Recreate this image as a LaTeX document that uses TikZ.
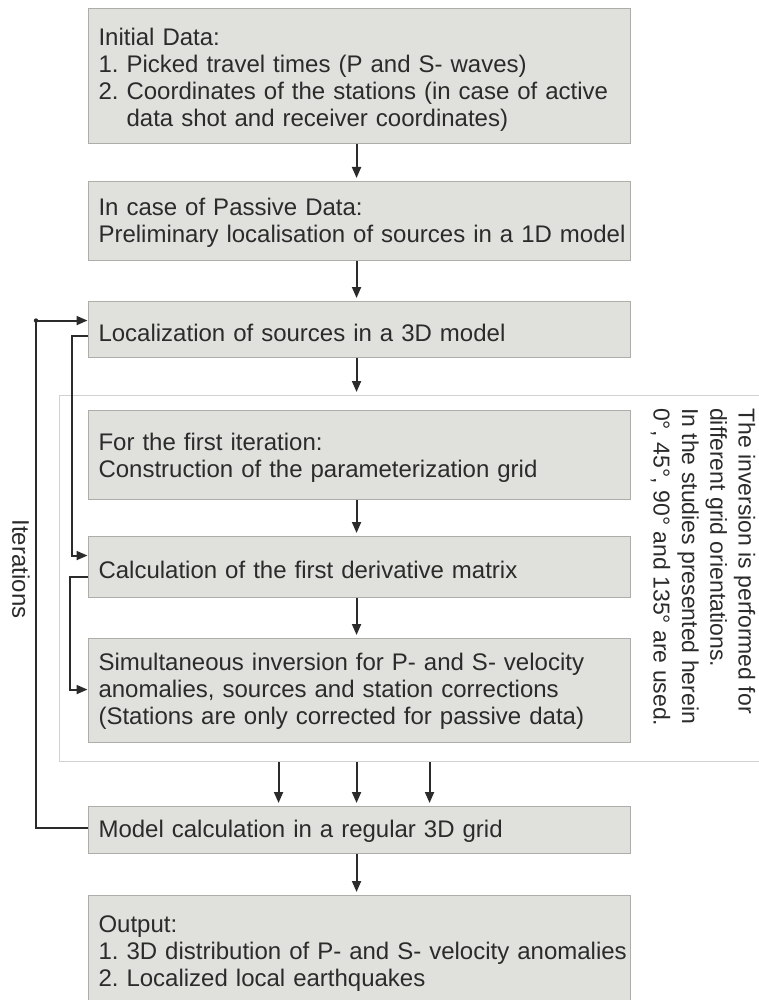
\documentclass[tikz,border=0pt]{standalone}
\usepackage{fontspec}
\setmainfont{Liberation Sans}
\usetikzlibrary{arrows.meta}
\definecolor{boxfill}{HTML}{E0E0DD}
\definecolor{boxline}{HTML}{ADADAA}
\definecolor{frameline}{HTML}{D2D2D2}
\definecolor{ink}{HTML}{2B2B2B}
\newcommand\firstln[2]{\mbox{\rule{0pt}{#1pt}#2}}
\newcommand\lastln[2]{\mbox{#2\rule[-#1pt]{0pt}{#1pt}}}
\frenchspacing
\begin{document}
\begin{tikzpicture}[x=1pt,y=-1pt,
  every node/.style={font=\fontsize{24}{27}\selectfont\frenchspacing, text=ink},
  box/.style={draw=boxline, line width=1.1pt, fill=boxfill, anchor=north west,
    text width=521.5pt, inner xsep=10.5pt, inner ysep=0pt, align=left},
  conn/.style={draw=ink, line width=1.9pt, -{Triangle[length=11pt,width=9pt]}},
  down/.style={conn, shorten >=3pt}]
\useasboundingbox (0,0) rectangle (759,1000);
\clip (0,0) rectangle (759,1000);
\fill[white] (0,0) rectangle (759,1000);

% frame round the inversion steps
\node[draw=frameline, line width=1.3pt, anchor=north west, minimum width=720pt,
  minimum height=366pt, inner sep=0pt] (frame) at (59,395) {};

\node[box] (b1) at (87.5,8) {\firstln{37}{Initial Data:}\\
  \mbox{1. Picked travel times (P and S- waves)}\\
  \mbox{2. Coordinates of the stations (in case of active}\\
  \lastln{17}{\hphantom{2.\ }data shot and receiver coordinates)}};

\node[box] (b2) at (87.5,181) {\firstln{34}{In case of Passive Data:}\\
  \lastln{18}{Preliminary localisation of sources in a 1D model}};

\node[box] (b3) at (87.5,301) {\mbox{\rule[-16pt]{0pt}{56pt}Localization of sources in a 3D model}};

\node[box] (b4) at (87.5,410) {\firstln{40}{For the first iteration:}\\
  \lastln{22}{Construction of the parameterization grid}};

\node[box] (b5) at (87.5,536) {\mbox{\rule[-19pt]{0pt}{61pt}Calculation of the first derivative matrix}};

\node[box] (b6) at (87.5,638) {\firstln{32}{Simultaneous inversion for P- and S- velocity}\\
  \mbox{anomalies, sources and station corrections}\\
  \lastln{18}{(Stations are only corrected for passive data)}};

\node[box] (b7) at (87.5,806) {\mbox{\rule[-16pt]{0pt}{47pt}Model calculation in a regular 3D grid}};

\node[box] (b8) at (87.5,895) {\firstln{37}{Output:}\\
  \mbox{1. 3D distribution of P- and S- velocity anomalies}\\
  \lastln{22}{2. Localized local earthquakes}};

% side notes
\node[rotate=-90, anchor=north west, align=left, inner sep=0pt,
  font=\fontsize{23}{28.3}\selectfont\frenchspacing] (note) at (755.5,408)
  {The inversion is performed for\\ different grid orientations.\\
   In the studies presented herein\\ 0°, 45°, 90° and 135° are used.};
\node[rotate=-90, inner sep=0pt] (iter) at (21,569) {Iterations};

% main downward arrows
\draw[down] ([xshift=-2.75pt]b1.south) -- ([xshift=-2.75pt]b2.north);
\draw[down] ([xshift=-2.75pt]b2.south) -- ([xshift=-2.75pt]b3.north);
\coordinate (c3) at ([xshift=-2.75pt]b3.south);
\draw[down] (c3) -- (c3 |- frame.north);
\draw[down] ([xshift=-2.75pt]b4.south) -- ([xshift=-2.75pt]b5.north);
\draw[down] ([xshift=-2.75pt]b5.south) -- ([xshift=-2.75pt]b6.north);
\coordinate (q1) at ([xshift=-80.75pt]b7.north);
\coordinate (q2) at ([xshift=-2.75pt]b7.north);
\coordinate (q3) at ([xshift=70.25pt]b7.north);
\draw[down] (q1 |- frame.south) -- (q1);
\draw[down] (q2 |- frame.south) -- (q2);
\draw[down] (q3 |- frame.south) -- (q3);
\draw[down] ([xshift=-2.75pt]b7.south) -- ([xshift=-2.75pt]b8.north);

% side connectors
\coordinate (itc) at ([xshift=-51.5pt,yshift=9pt]b3.west);
\draw[conn] ([yshift=2.5pt]b7.west) -| (itc) -- ([yshift=9pt]b3.west);
\fill[ink] (itc) circle (2.2pt);
\draw[conn] ([yshift=-6pt]b3.west) -- ++(-15.5,0) |- ([yshift=11.5pt]b5.west);
\draw[conn] ([yshift=-9.5pt]b5.west) -- ++(-17.5,0) |- ([yshift=1pt]b6.west);
\end{tikzpicture}
\end{document}
